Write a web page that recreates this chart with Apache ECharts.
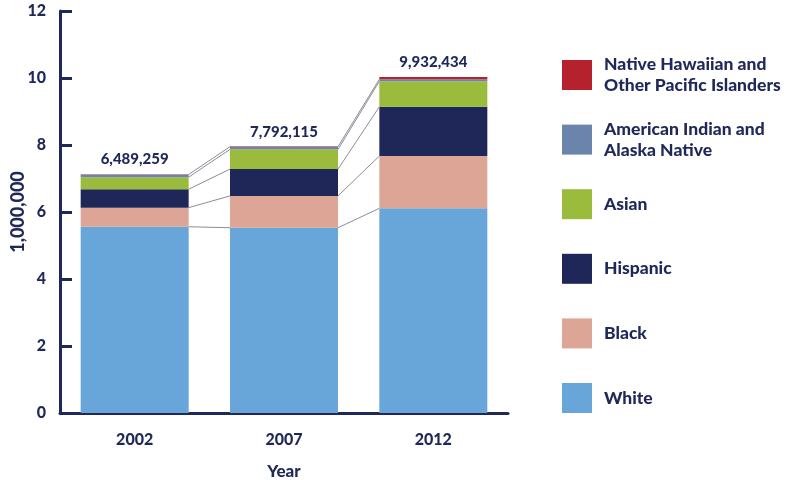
<!DOCTYPE html>
<html>
<head>
<meta charset="utf-8">
<script src="https://cdn.jsdelivr.net/npm/echarts@6/dist/echarts.min.js"></script>
<style>
  html, body { margin: 0; padding: 0; background: #ffffff; }
  #chart { width: 787px; height: 480px; }
</style>
</head>
<body>
<div id="chart"></div>
<script>
// Years on the x axis
const years = ['2002', '2007', '2012'];

// Segment values per group, in millions (stacked bottom to top)
const white    = [5.56, 5.53, 6.11];
const black    = [0.57, 0.95, 1.56];
const hispanic = [0.55, 0.80, 1.47];
const asian    = [0.36, 0.59, 0.76];
const aian     = [0.08, 0.08, 0.06];
const nhpi     = [0.01, 0.01, 0.07];

// Printed totals above each bar
const totalLabels = ['6,489,259', '7,792,115', '9,932,434'];

// Y axis ticks
const yMin = 0, yMax = 12, yStep = 2;

const seriesNames = ['White', 'Black', 'Hispanic', 'Asian',
  'American Indian and Alaska Native', 'Native Hawaiian and Other Pacific Islanders'];
const legendText = {
  'White': 'White',
  'Black': 'Black',
  'Hispanic': 'Hispanic',
  'Asian': 'Asian',
  'American Indian and Alaska Native': 'American Indian and\nAlaska Native',
  'Native Hawaiian and Other Pacific Islanders': 'Native Hawaiian and\nOther Pacific Islanders'
};
const layers = [white, black, hispanic, asian, aian, nhpi];
const colors = ['#68a5d9', '#dca596', '#1e2757', '#9bbb3d', '#6b84ac', '#b5222d'];

const NAVY = '#1f2858';
const FONT = 'Lato';
const BAR_W = 108;

// Running tops of each layer, used by the connector lines
const cumTops = layers.map((_, k) =>
  years.map((_, i) => layers.slice(0, k + 1).reduce((s, arr) => s + arr[i], 0)));

const barSeries = layers.map((vals, k) => ({
  name: seriesNames[k],
  type: 'bar',
  stack: 'total',
  barWidth: BAR_W,
  data: vals,
  itemStyle: { color: colors[k] },
  z: 2,
  label: k === layers.length - 1 ? {
    show: true,
    position: 'top',
    distance: 7,
    formatter: p => totalLabels[p.dataIndex],
    color: NAVY,
    fontFamily: FONT,
    fontWeight: 900,
    fontSize: 15
  } : { show: false }
}));

// Thin lines joining each layer's top from one bar to the next
const connectorSeries = {
  type: 'custom',
  name: 'connectors',
  silent: true,
  z: 3,
  data: years.slice(0, -1).map((_, i) => [i]),
  renderItem: function (params, api) {
    const i = api.value(0);
    const children = cumTops.slice(0, 5).map(tops => {
      const a = api.coord([i, tops[i]]);
      const b = api.coord([i + 1, tops[i + 1]]);
      return {
        type: 'line',
        shape: { x1: a[0] + BAR_W / 2, y1: a[1], x2: b[0] - BAR_W / 2, y2: b[1] },
        style: { stroke: '#8a8d96', lineWidth: 1 }
      };
    });
    return { type: 'group', children: children };
  }
};

// One legend block per series so every row sits on an even pitch
const legendOrder = seriesNames.slice().reverse();
const legends = legendOrder.map((name, j) => ({
  data: [{ name: name, icon: 'rect' }],
  orient: 'vertical',
  left: 557,
  top: 55 + j * 64.6 - (legendText[name].indexOf('\n') >= 0 ? 6 : 0),
  itemWidth: 30,
  itemHeight: 30,
  itemGap: 14,
  selectedMode: false,
  formatter: n => legendText[n],
  textStyle: {
    color: NAVY,
    fontFamily: FONT,
    fontWeight: 900,
    fontSize: 17.5,
    lineHeight: 21,
    padding: [0, 0, 0, 7]
  }
}));

const chart = echarts.init(document.getElementById('chart'), null, { renderer: 'canvas' });
chart.setOption({
  animation: false,
  backgroundColor: '#ffffff',
  legend: legends,
  grid: { left: 60, right: 279, top: 11, bottom: 67, containLabel: false, outerBoundsMode: 'none' },
  xAxis: {
    type: 'category',
    data: years,
    name: 'Year',
    nameLocation: 'middle',
    nameGap: 50,
    nameMoveOverlap: false,
    nameTextStyle: { color: NAVY, fontFamily: FONT, fontWeight: 900, fontSize: 17 },
    axisLine: { lineStyle: { color: NAVY, width: 3 } },
    axisTick: { show: false },
    axisLabel: { color: NAVY, fontFamily: FONT, fontWeight: 900, fontSize: 16, margin: 19 }
  },
  yAxis: {
    type: 'value',
    min: yMin,
    max: yMax,
    interval: yStep,
    name: '1,000,000',
    nameLocation: 'middle',
    nameGap: 33,
    nameMoveOverlap: false,
    nameRotate: 90,
    nameTextStyle: { color: NAVY, fontFamily: FONT, fontWeight: 900, fontSize: 18 },
    axisLine: { show: true, lineStyle: { color: NAVY, width: 3 } },
    axisTick: { show: true, inside: true, length: 12, lineStyle: { color: NAVY, width: 3 } },
    splitLine: { show: false },
    axisLabel: { color: NAVY, fontFamily: FONT, fontWeight: 900, fontSize: 16, margin: 14 }
  },
  series: barSeries.concat([connectorSeries])
});
</script>
</body>
</html>
